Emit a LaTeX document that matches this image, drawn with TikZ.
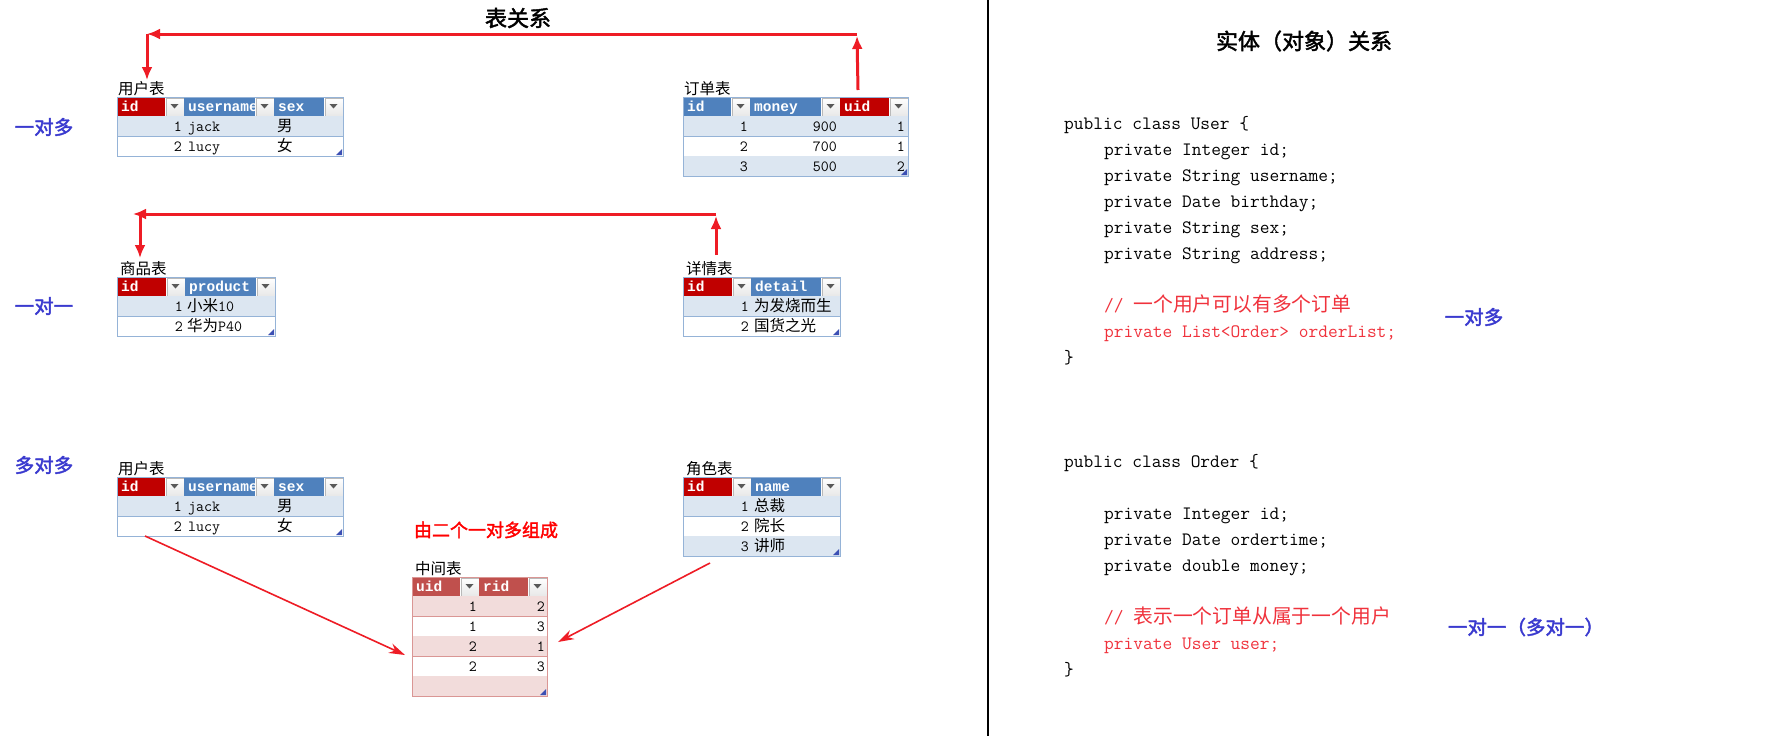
\documentclass[tikz,border=0pt]{standalone}
\usepackage{fontspec}
\newfontfamily\cjk{Noto Sans CJK SC}[AutoFakeBold=2]
\newfontfamily\hdrfont{Liberation Mono}
\usetikzlibrary{arrows.meta,positioning}

\definecolor{hdrblue}{HTML}{4F81BD}
\definecolor{hdrred}{HTML}{C00000}
\definecolor{rowblue}{HTML}{DCE6F1}
\definecolor{lineblue}{HTML}{95B3D7}
\definecolor{hdrrose}{HTML}{C0504D}
\definecolor{rowrose}{HTML}{F2DCDB}
\definecolor{linerose}{HTML}{DA9694}
\definecolor{arrowred}{HTML}{EE1C25}
\definecolor{labelblue}{HTML}{3A3ACF}
\definecolor{codered}{HTML}{F0323C}
\definecolor{handleblue}{HTML}{3C50B4}

% header row: prefix, x, y, list of width/colour/text
\newcommand{\dbhead}[4]{%
  \foreach \w/\c/\t [count=\i, remember=\nx as \cx (initially #2)] in {#4}{%
    \pgfmathsetmacro{\nx}{\cx+\w}%
    \fill[\c] (\cx,#3) rectangle (\nx-19,#3+19);
    \node[hdrtext] (#1h\i) at (\cx+4,#3+14) {\t};
    \node[ddbtn] (#1d\i) at (\nx-18.5,#3+0.5) {};
    \fill[ddtri] (\nx-13.5,#3+7) -- (\nx-5.5,#3+7) -- (\nx-9.5,#3+11.5) -- cycle;
  }%
}
% body rows: x, y, width, rows, fill, line
\newcommand{\dbrows}[6]{%
  \foreach \r in {1,...,#4}{%
    \pgfmathsetmacro{\ry}{#2+20*(\r-1)}%
    \ifodd\r\relax \fill[#5] (#1,\ry) rectangle ++(#3,20); \fi
    \draw[#6, line width=0.8pt] (#1,\ry+20) -- ++(#3,0);
  }%
  \draw[#6, line width=0.8pt] (#1,#2-19) rectangle (#1+#3,#2+20*#4);
  \fill[handleblue] (#1+#3-1,#2+20*#4-1) -- ++(0,-6) -- ++(-6,6) -- cycle;
}

\begin{document}
\begin{tikzpicture}[
  x=1pt, y=-1pt,
  hdrtext/.style={anchor=base west, inner sep=0pt, text=white, font=\hdrfont\bfseries\fontsize{14.5}{16}\selectfont},
  ddbtn/.style={draw=gray!55, top color=white, bottom color=gray!18, minimum size=18pt, inner sep=0pt, anchor=north west, line width=0.6pt},
  ddtri/.style={fill=gray!70!black},
  numcell/.style={anchor=base east, inner sep=0pt, font=\ttfamily\fontsize{15.5}{17}\selectfont},
  txtcell/.style={anchor=base west, inner sep=0pt, font=\ttfamily\fontsize{15.5}{17}\selectfont},
  tbllabel/.style={inner sep=0pt, font=\cjk\fontsize{15.5}{17}\selectfont},
  kindlabel/.style={inner sep=0pt, text=labelblue, font=\cjk\bfseries\fontsize{19.5}{22}\selectfont},
  title/.style={inner sep=0pt, font=\cjk\bfseries\fontsize{22}{24}\selectfont},
  note/.style={inner sep=0pt, text=red, font=\cjk\bfseries\fontsize{18}{20}\selectfont},
  codeblk/.style={anchor=north west, align=left, inner sep=0pt, font=\ttfamily\fontsize{18.9}{26}\selectfont},
  relarrow/.style={-{Latex[length=13pt,width=11pt]}, arrowred, line width=3pt},
  linkarrow/.style={-{Stealth[length=16pt,width=10pt]}, arrowred, line width=1.6pt}
]
\fill[white] (0,0) rectangle (1766,736);
\useasboundingbox (0,0) rectangle (1766,736);

% left half: tables
\node[title] (tbltitle) at (518,18) {表关系};
\node[kindlabel] (one2many) at (44,127) {一对多};
\node[kindlabel] (one2one) at (44,306) {一对一};
\node[kindlabel] (many2many) at (44,465) {多对多};

% user / order
\coordinate (U1) at (117,97);
\dbhead{ua}{117}{97}{67/hdrred/id,90/hdrblue/username,69/hdrblue/sex}
\dbrows{117}{116}{226}{2}{rowblue}{lineblue}
\node[tbllabel, above right=1pt and 1pt of U1] (ualbl) {用户表};
\node[numcell] (ua11) at (182,131) {1};
\node[txtcell] (ua12) at (188,131) {jack};
\node[txtcell] (ua13) at (277,131) {\cjk 男};
\node[numcell] (ua21) at (182,151) {2};
\node[txtcell] (ua22) at (188,151) {lucy};
\node[txtcell] (ua23) at (277,151) {\cjk 女};

\coordinate (O1) at (683,97);
\dbhead{ob}{683}{97}{67/hdrblue/id,90/hdrblue/money,68/hdrred/uid}
\dbrows{683}{116}{225}{3}{rowblue}{lineblue}
\node[tbllabel, above right=1pt and 1pt of O1] (oblbl) {订单表};
\node[numcell] (ob11) at (748,131) {1};
\node[numcell] (ob12) at (837,131) {900};
\node[numcell] (ob13) at (905,131) {1};
\node[numcell] (ob21) at (748,151) {2};
\node[numcell] (ob22) at (837,151) {700};
\node[numcell] (ob23) at (905,151) {1};
\node[numcell] (ob31) at (748,171) {3};
\node[numcell] (ob32) at (837,171) {500};
\node[numcell] (ob33) at (905,171) {2};

% product / detail
\coordinate (P1) at (117,277);
\dbhead{pc}{117}{277}{68/hdrred/id,90/hdrblue/product}
\dbrows{117}{296}{158}{2}{rowblue}{lineblue}
\node[tbllabel, above right=1pt and 3pt of P1] (pclbl) {商品表};
\node[numcell] (pc11) at (183,311) {1};
\node[txtcell] (pc12) at (187,311) {{\cjk 小米}10};
\node[numcell] (pc21) at (183,331) {2};
\node[txtcell] (pc22) at (187,331) {{\cjk 华为}P40};

\coordinate (D1) at (683,277);
\dbhead{dt}{683}{277}{68/hdrred/id,89/hdrblue/detail}
\dbrows{683}{296}{157}{2}{rowblue}{lineblue}
\node[tbllabel, above right=1pt and 3pt of D1] (dtlbl) {详情表};
\node[numcell] (dt11) at (749,311) {1};
\node[txtcell] (dt12) at (754,311) {\cjk 为发烧而生};
\node[numcell] (dt21) at (749,331) {2};
\node[txtcell] (dt22) at (754,331) {\cjk 国货之光};

% user / role / middle
\coordinate (U2) at (117,477);
\dbhead{uc}{117}{477}{67/hdrred/id,90/hdrblue/username,69/hdrblue/sex}
\dbrows{117}{496}{226}{2}{rowblue}{lineblue}
\node[tbllabel, above right=1pt and 1pt of U2] (uclbl) {用户表};
\node[numcell] (uc11) at (182,511) {1};
\node[txtcell] (uc12) at (188,511) {jack};
\node[txtcell] (uc13) at (277,511) {\cjk 男};
\node[numcell] (uc21) at (182,531) {2};
\node[txtcell] (uc22) at (188,531) {lucy};
\node[txtcell] (uc23) at (277,531) {\cjk 女};

\coordinate (R1) at (683,477);
\dbhead{rl}{683}{477}{68/hdrred/id,89/hdrblue/name}
\dbrows{683}{496}{157}{3}{rowblue}{lineblue}
\node[tbllabel, above right=1pt and 3pt of R1] (rllbl) {角色表};
\node[numcell] (rl11) at (749,511) {1};
\node[txtcell] (rl12) at (754,511) {\cjk 总裁};
\node[numcell] (rl21) at (749,531) {2};
\node[txtcell] (rl22) at (754,531) {\cjk 院长};
\node[numcell] (rl31) at (749,551) {3};
\node[txtcell] (rl32) at (754,551) {\cjk 讲师};

\node[note] (midnote) at (486,530) {由二个一对多组成};
\coordinate (M1) at (412,577);
\dbhead{mid}{412}{577}{67/hdrrose/uid,68/hdrrose/rid}
\dbrows{412}{596}{135}{5}{rowrose}{linerose}
\node[tbllabel, above right=1pt and 3pt of M1] (midlbl) {中间表};
\node[numcell] (mid11) at (477,611) {1};
\node[numcell] (mid12) at (545,611) {2};
\node[numcell] (mid21) at (477,631) {1};
\node[numcell] (mid22) at (545,631) {3};
\node[numcell] (mid31) at (477,651) {2};
\node[numcell] (mid32) at (545,651) {1};
\node[numcell] (mid41) at (477,671) {2};
\node[numcell] (mid42) at (545,671) {3};

% arrows
\coordinate (topL) at (147,34);
\coordinate (topR) at (857,34);
\coordinate (uaIn) at (147,80);
\coordinate (obOut) at (858,90);
\draw[relarrow] (topR) -- (topL);
\draw[relarrow] (topL) -- (uaIn);
\draw[relarrow] (obOut) -- ([yshift=-2pt]topR);

\coordinate (secL) at (133,214);
\coordinate (secLd) at (140,214);
\coordinate (secR) at (716,214);
\coordinate (pcIn) at (140,258);
\coordinate (dtOut) at (716,255);
\draw[relarrow] (secR) -- (secL);
\draw[relarrow] (secLd) -- (pcIn);
\draw[relarrow] (dtOut) -- ([yshift=-2pt]secR);

\coordinate (ucOut) at (145,536);
\coordinate (midIn1) at (405,655);
\coordinate (rlOut) at (710,563);
\coordinate (midIn2) at (558,642);
\draw[linkarrow] (ucOut) -- (midIn1);
\draw[linkarrow] (rlOut) -- (midIn2);

% divider
\draw[line width=1.5pt] (988,0) -- (988,736);

% right half: classes
\node[title] (enttitle) at (1304,41) {实体（对象）关系};
\node[codeblk] (userclass) at (1064,116) {public class User \{\\
\hspace*{40pt}private Integer id;\\
\hspace*{40pt}private String username;\\
\hspace*{40pt}private Date birthday;\\
\hspace*{40pt}private String sex;\\
\hspace*{40pt}private String address;\\[26pt]
\hspace*{40pt}{\color{codered}// {\cjk\fontsize{19.8}{26}\selectfont 一个用户可以有多个订单}}\\
\hspace*{40pt}{\color{codered}private List<Order> orderList;}\\
\}};
\node[kindlabel] (userrel) at (1474,317) {一对多};

\node[codeblk] (orderclass) at (1064,454) {public class Order \{\\[26pt]
\hspace*{40pt}private Integer id;\\
\hspace*{40pt}private Date ordertime;\\
\hspace*{40pt}private double money;\\[26pt]
\hspace*{40pt}{\color{codered}// {\cjk\fontsize{19.8}{26}\selectfont 表示一个订单从属于一个用户}}\\
\hspace*{40pt}{\color{codered}private User user;}\\
\}};
\node[kindlabel] (orderrel) at (1526,627) {一对一（多对一）};
\end{tikzpicture}
\end{document}
